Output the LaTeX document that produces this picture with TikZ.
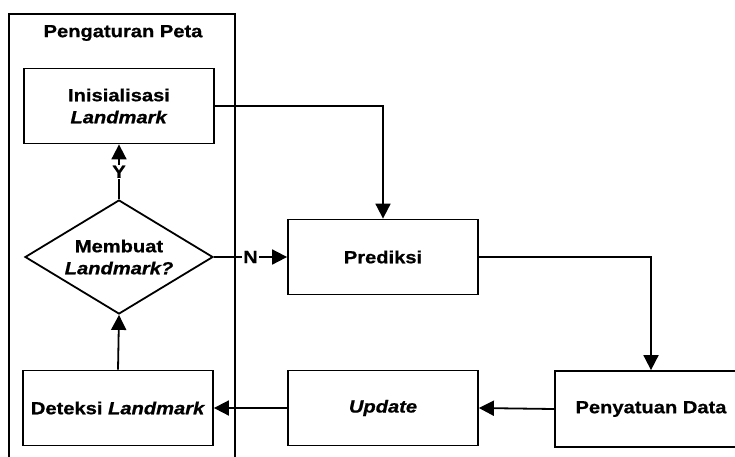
\documentclass[tikz,border=0pt]{standalone}
\usepackage{fontspec}
\setmainfont{Liberation Sans}[FakeStretch=1.15, BoldFeatures={FakeBold=0.8}, BoldItalicFeatures={FakeBold=0.8}]
\usetikzlibrary{shapes.geometric,arrows.meta}
\begin{document}
\begin{tikzpicture}[x=1pt,y=-1pt,
  lbl/.style={font=\fontsize{17.5}{22}\selectfont\bfseries},
  stepbox/.style={draw, line width=1.8pt, minimum width=190pt, minimum height=75pt, inner sep=0pt, align=center, lbl},
  decbox/.style={draw, diamond, line width=1.8pt, minimum width=188pt, minimum height=114pt, aspect=1.65, inner sep=0pt, align=center, lbl},
  arr/.style={line width=1.8pt, -{Triangle[length=15pt,width=15pt]}},
  frame/.style={draw, line width=1.5pt}]
\useasboundingbox (0,0) rectangle (735,456);
\fill[white] (0,0) rectangle (735,456);
\draw[frame] (9,14) rectangle (235,470);
\node[lbl] (title) at (123,33) {Pengaturan Peta};
\node[stepbox] (ini) at (119,106) {Inisialisasi\\\textit{Landmark}};
\node[decbox] (dia) at (119,257) {Membuat\\\textit{Landmark?}};
\node[stepbox] (det) at (118,408) {Deteksi \textit{Landmark}};
\node[stepbox] (pred) at (383,257) {Prediksi};
\node[stepbox] (upd) at (383,408) {\textit{Update}};
\node[stepbox, minimum width=192pt, minimum height=76pt] (pen) at (651,409) {Penyatuan Data};
\draw[arr] (dia.north) -- node[fill=white, lbl, inner sep=1pt] {Y} (ini.south);
\draw[arr] (dia.east) -- node[fill=white, lbl, inner sep=1pt] {N} (pred.west);
\draw[arr] (ini.east) -| (pred.north);
\draw[arr] (pred.east) -| (pen.north);
\draw[arr] (pen.west) -- (upd.east);
\draw[arr] (upd.west) -- (det.east);
\draw[arr] (det.north) -- (dia.south);
\end{tikzpicture}
\end{document}
